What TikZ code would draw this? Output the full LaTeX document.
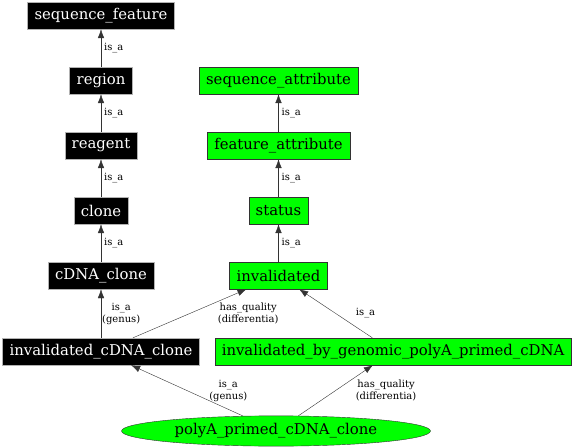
\documentclass[tikz,border=0pt]{standalone}
\usepackage{tikz}
\usepackage{xcolor}
\usepackage{fontspec}
\setmainfont{DejaVu Serif}
\usetikzlibrary{shapes.geometric, positioning, arrows.meta}

\definecolor{termgreen}{HTML}{00FF00}

\tikzset{
  blackterm/.style={draw=gray!60, fill=black, text=white, minimum height=27bp,
    inner xsep=7bp, font=\fontsize{14.9}{16}\selectfont},
  greenterm/.style={draw=black!80, fill=termgreen, text=black, minimum height=27bp,
    inner xsep=7bp, font=\fontsize{14.9}{16}\selectfont},
  rel/.style={font=\fontsize{10}{12}\selectfont, inner sep=1bp, align=center},
}

\begin{document}
\begin{tikzpicture}[x=1bp, y=-1bp, >={Latex[length=9bp,width=6.5bp]}, draw=black!80]

        \useasboundingbox (0,0) rectangle (576,448);

        % Left column (black terms)
        \node[blackterm] (SequenceFeature) at (101,15.5) {sequence\_feature};
        \node[blackterm] (Region) at (101,80.5) {region};
        \node[blackterm] (Reagent) at (101,145.5) {reagent};
        \node[blackterm] (Clone) at (101,210.5) {clone};
        \node[blackterm] (CdnaClone) at (101,275.5) {cDNA\_clone};
        \node[blackterm] (InvalidatedCdnaClone) at (101,351.5) {invalidated\_cDNA\_clone};

        % Right column (green terms)
        \node[greenterm] (SequenceAttribute) at (278.5,80.5) {sequence\_attribute};
        \node[greenterm] (FeatureAttribute) at (278.5,145.5) {feature\_attribute};
        \node[greenterm] (Status) at (278.5,210.5) {status};
        \node[greenterm] (Invalidated) at (278.5,275.5) {invalidated};
        \node[greenterm] (InvalidatedByGenomic) at (393,351.5) {invalidated\_by\_genomic\_polyA\_primed\_cDNA};

        % Bottom term (ellipse)
        \node[greenterm, ellipse, minimum width=309bp, minimum height=28bp] (PolyAClone) at (276,431) {polyA\_primed\_cDNA\_clone};

        \draw[->] (Region) -- (SequenceFeature) node[rel, pos=0.5, right=2bp] {is\_a};
        \draw[->] (Reagent) -- (Region) node[rel, pos=0.5, right=2bp] {is\_a};
        \draw[->] (Clone) -- (Reagent) node[rel, pos=0.5, right=2bp] {is\_a};
        \draw[->] (CdnaClone) -- (Clone) node[rel, pos=0.5, right=2bp] {is\_a};
        \draw[->] (InvalidatedCdnaClone) -- (CdnaClone) node[rel, pos=0.5, right=0bp] {is\_a\\(genus)};

        \draw[->] (FeatureAttribute) -- (SequenceAttribute) node[rel, pos=0.5, right=2bp] {is\_a};
        \draw[->] (Status) -- (FeatureAttribute) node[rel, pos=0.5, right=2bp] {is\_a};
        \draw[->] (Invalidated) -- (Status) node[rel, pos=0.5, right=2bp] {is\_a};

        \draw[->] (InvalidatedCdnaClone) -- (Invalidated) node[rel, pos=0.5, right=27bp] {has\_quality\\(differentia)};
        \draw[->] (InvalidatedByGenomic) -- (Invalidated) node[rel, pos=0.5, right=19bp] {is\_a};

        \draw[->] (PolyAClone) -- (InvalidatedCdnaClone) node[rel, pos=0.5, right=21bp] {is\_a\\(genus)};
        \draw[->] (PolyAClone) -- (InvalidatedByGenomic) node[rel, pos=0.5, right=19bp] {has\_quality\\(differentia)};

      \end{tikzpicture}
\end{document}
